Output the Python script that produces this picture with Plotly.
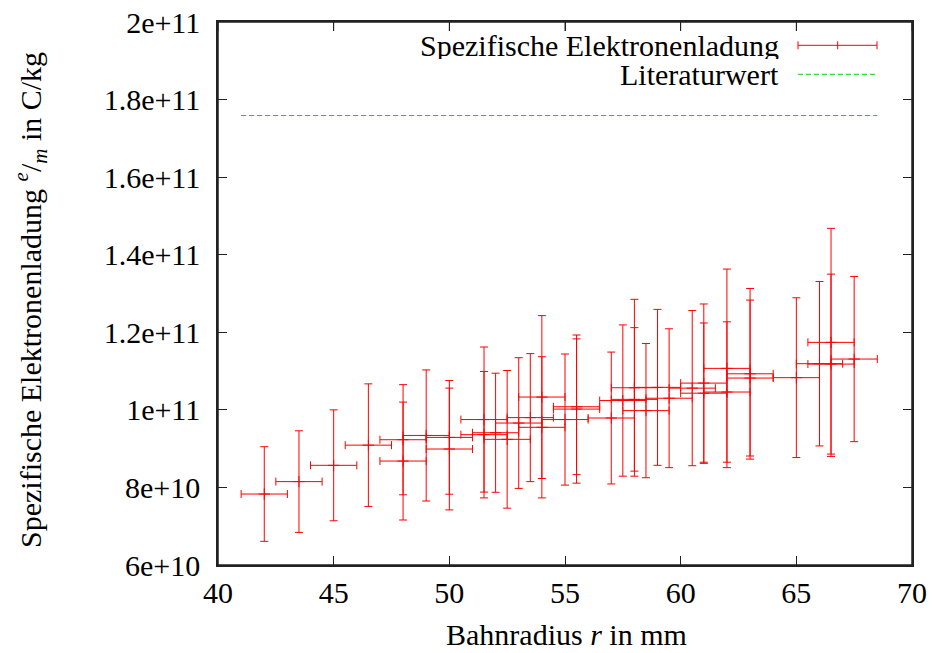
import plotly.graph_objects as go

# ---- data ----
r_mm = [42.0, 43.5, 45.0, 46.5, 48.0, 48.0, 49.0, 50.0, 50.0, 51.5, 51.5, 52.0, 52.5,
        53.0, 53.5, 54.0, 54.0, 55.0, 55.5, 55.5, 57.0, 57.5, 58.0, 58.0, 58.5, 59.0,
        59.5, 60.5, 61.0, 61.0, 62.0, 62.0, 63.0, 63.0, 65.0, 66.0, 66.5, 66.5, 67.5]
r_err = 1.0
em_1e9 = [78.3, 81.5, 85.7, 90.9, 92.3, 86.8, 93.4, 92.9, 89.9, 97.5, 93.6, 94.1, 92.4,
          96.6, 98.0, 103.3, 95.5, 97.5, 100.2, 100.8, 97.9, 102.4, 105.7, 102.7, 99.8, 105.8,
          103.0, 105.6, 106.9, 104.3, 110.7, 104.6, 109.3, 108.2, 108.3, 111.9, 117.4, 111.8, 113.1]
em_err_1e9 = [12.2, 13.1, 14.3, 15.8, 14.2, 15.2, 16.9, 14.65, 15.7, 18.7, 16.3, 15.35, 17.75,
              16.85, 16.5, 21.0, 18.2, 16.9, 19.1, 17.5, 17.0, 19.5, 22.8, 18.5, 17.3, 20.1,
              17.9, 20.0, 20.4, 18.1, 25.6, 18.1, 22.0, 20.1, 20.6, 21.2, 29.4, 23.2, 21.3]
literature = 1.758820e11

x_ticks = [40, 45, 50, 55, 60, 65, 70]
y_ticks = [6e10, 8e10, 1e11, 1.2e11, 1.4e11, 1.6e11, 1.8e11, 2e11]
y_ticklabels = ["6e+10", "8e+10", "1e+11", "1.2e+11", "1.4e+11", "1.6e+11", "1.8e+11", "2e+11"]

em = [v * 1e9 for v in em_1e9]
em_err = [v * 1e9 for v in em_err_1e9]

FONT = "Liberation Serif"
RED = "rgb(255,0,0)"
GREEN = "rgb(0,220,0)"

W, H = 934, 653
ML, MT, MR, MB = 218, 22, 22, 88
PW, PH = W - ML - MR, H - MT - MB

def px(x_page):
    return (x_page - ML) / PW

def py(y_page):
    return (H - MB - y_page) / PH

fig = go.Figure()

fig.add_trace(go.Scatter(
    x=r_mm, y=em, mode="markers",
    marker=dict(symbol="cross-thin-open", size=8, color=RED, line=dict(color=RED, width=1)),
    error_x=dict(type="constant", value=r_err, color=RED, thickness=1, width=4),
    error_y=dict(type="data", array=em_err, color=RED, thickness=1, width=4),
    showlegend=False,
))

lit_x = [min(r_mm) - r_err, max(r_mm) + r_err]
fig.add_trace(go.Scatter(
    x=lit_x, y=[literature, literature], mode="lines",
    line=dict(color=GREEN, width=1, dash="5px,3px"),
    showlegend=False,
))

shapes = []
# plot frame (so the top border is always drawn)
shapes.append(dict(type="rect", xref="paper", yref="paper", x0=0, x1=1, y0=0, y1=1,
                   line=dict(color="#222", width=1.5), fillcolor="rgba(0,0,0,0)", layer="above"))
# top ticks at x tick positions
for xv in x_ticks:
    shapes.append(dict(type="line", xref="x", yref="paper", x0=xv, x1=xv,
                       y0=1, y1=1 - 9 / PH, line=dict(color="#222", width=1)))

# legend drawn gnuplot-style (text left of sample)
ly1, ly2 = 45.3, 74.3
sx0, sx1, sxm = 798, 877, 837.7
shapes.append(dict(type="line", xref="paper", yref="paper", x0=px(sx0), x1=px(sx1),
                   y0=py(ly1), y1=py(ly1), line=dict(color=RED, width=1)))
for xx in (sx0, sxm, sx1):
    shapes.append(dict(type="line", xref="paper", yref="paper", x0=px(xx), x1=px(xx),
                       y0=py(ly1 - 4), y1=py(ly1 + 4), line=dict(color=RED, width=1)))
shapes.append(dict(type="line", xref="paper", yref="paper", x0=px(sx0), x1=px(sx1),
                   y0=py(ly2), y1=py(ly2), line=dict(color=GREEN, width=1, dash="5px,3px")))

annotations = [
    dict(text="Spezifische Elektronenladung", xref="paper", yref="paper",
         x=px(781), y=py(ly1), xanchor="right", yanchor="middle", showarrow=False,
         height=27, valign="middle",
         font=dict(family=FONT, size=30, color="black")),
    dict(text="Literaturwert", xref="paper", yref="paper",
         x=px(781), y=py(ly2), xanchor="right", yanchor="middle", showarrow=False,
         height=27, valign="middle",
         font=dict(family=FONT, size=30, color="black")),
    dict(text="Bahnradius <i>r</i> in mm", xref="paper", yref="paper",
         x=px(566), y=py(635), xanchor="center", yanchor="middle", showarrow=False,
         font=dict(family=FONT, size=30, color="black")),
    dict(text="Spezifische Elektronenladung <sup><i>e</i></sup>/<sub><i>m</i></sub> in C/kg",
         xref="paper", yref="paper", x=px(30), y=py(300), xanchor="center", yanchor="middle",
         textangle=-90, showarrow=False, font=dict(family=FONT, size=30, color="black")),
]

axis_common = dict(
    showline=True, linecolor="#222", linewidth=1.5, mirror="ticks",
    ticks="inside", ticklen=9, tickwidth=1, tickcolor="#222",
    showgrid=False, zeroline=False, automargin=False, ticklabeloverflow="allow",
    tickfont=dict(family=FONT, size=30, color="black"),
)

fig.update_layout(
    width=W, height=H,
    margin=dict(l=ML, r=MR, t=MT, b=MB, autoexpand=False),
    paper_bgcolor="white", plot_bgcolor="white",
    shapes=shapes, annotations=annotations,
    xaxis=dict(range=[40, 70], tickvals=x_ticks, ticktext=[str(v) for v in x_ticks],
               ticklabelstandoff=0, **axis_common),
    yaxis=dict(range=[6e10, 2e11], tickvals=y_ticks, ticktext=y_ticklabels,
               ticklabelstandoff=10, **axis_common),
)

fig.write_html("out.html", config={"displayModeBar": False},
               post_script="document.body.style.margin='0';")
